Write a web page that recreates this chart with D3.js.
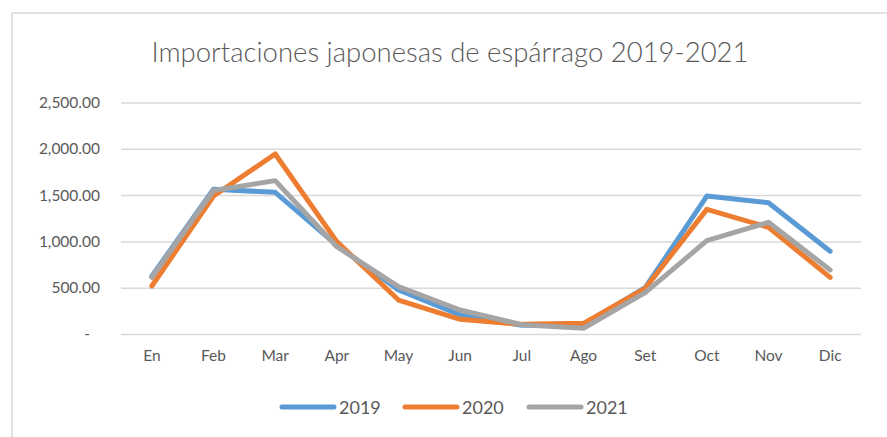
<!DOCTYPE html>
<html>
<head>
<meta charset="utf-8">
<script src="https://cdn.jsdelivr.net/npm/d3@7"></script>
<style>
  body { margin: 0; background: #fff; }
  svg { display: block; font-family: Lato, "Open Sans", sans-serif; }
</style>
</head>
<body>
<svg id="chart"></svg>
<script>
const months = ["En", "Feb", "Mar", "Apr", "May", "Jun", "Jul", "Ago", "Set", "Oct", "Nov", "Dic"];
const years = ["2019", "2020", "2021"];
const v2019 = [625, 1563, 1530, 960, 475, 205, 95, 100, 500, 1490, 1418, 893];
const v2020 = [518, 1490, 1944, 997, 367, 159, 104, 115, 493, 1346, 1152, 612];
const v2021 = [612, 1550, 1656, 943, 511, 259, 100, 62, 446, 1008, 1206, 691];
const yTicks = [0, 500, 1000, 1500, 2000, 2500];
const colors = ["#5B9BD5", "#ED7D31", "#A5A5A5"];

const w = 887, h = 437;
const plotL = 121, plotR = 861, plotT = 102.5, plotB = 334;

const svg = d3.select("#chart").attr("width", w).attr("height", h);

// chart border (cut off at right / bottom like the original)
svg.append("rect")
  .attr("x", 12).attr("y", 13)
  .attr("width", w + 20).attr("height", h + 20)
  .attr("fill", "none")
  .attr("stroke", "#d9d9d9")
  .attr("stroke-width", 1.5);

svg.append("text")
  .attr("x", 450).attr("y", 62)
  .attr("text-anchor", "middle")
  .attr("fill", "#595959")
  .attr("font-size", 27.5)
  .attr("font-weight", 300)
  .text("Importaciones japonesas de espárrago 2019-2021");

const x = d3.scaleBand().domain(months).range([plotL, plotR]);
const y = d3.scaleLinear().domain([0, 2500]).range([plotB, plotT]);

const fmt = d3.format(",.2f");

// gridlines + y labels
const yAxis = d3.axisLeft(y)
  .tickValues(yTicks)
  .tickSize(-(plotR - plotL))
  .tickPadding(21)
  .tickFormat(d => d === 0 ? "-" : fmt(d));

svg.append("g")
  .attr("transform", "translate(" + plotL + ",0)")
  .call(yAxis)
  .call(g => g.select(".domain").remove())
  .call(g => g.selectAll(".tick line").attr("stroke", "#d9d9d9").attr("stroke-width", 1.5))
  .call(g => g.selectAll(".tick text")
    .attr("fill", "#595959")
    .attr("font-size", 15.5)
    .attr("font-family", "Lato, sans-serif")
    .attr("dx", d => d === 0 ? -10 : 0));

// x labels
svg.append("g")
  .attr("transform", "translate(0," + plotB + ")")
  .call(d3.axisBottom(x).tickSize(0).tickPadding(16))
  .call(g => g.select(".domain").remove())
  .call(g => g.selectAll(".tick text")
    .attr("fill", "#595959")
    .attr("font-size", 15.5)
    .attr("font-family", "Lato, sans-serif"));

const series = [v2019, v2020, v2021];

const line = d3.line()
  .x((d, i) => x(months[i]) + x.bandwidth() / 2)
  .y(d => y(d));

svg.selectAll("path.series")
  .data(series)
  .enter()
  .append("path")
  .attr("class", "series")
  .attr("fill", "none")
  .attr("stroke", (d, i) => colors[i])
  .attr("stroke-width", 5)
  .attr("stroke-linejoin", "round")
  .attr("stroke-linecap", "round")
  .attr("d", line);

// legend
const legendX = [280, 403, 527];
const legend = svg.append("g")
  .selectAll("g")
  .data(years)
  .enter()
  .append("g")
  .attr("transform", (d, i) => "translate(" + legendX[i] + ",407)");

legend.append("line")
  .attr("x1", 2).attr("x2", 54)
  .attr("stroke", (d, i) => colors[i])
  .attr("stroke-width", 5)
  .attr("stroke-linecap", "round");

legend.append("text")
  .attr("x", 59).attr("y", 6.5)
  .attr("fill", "#595959")
  .attr("font-size", 18)
  .text(d => d);
</script>
</body>
</html>
